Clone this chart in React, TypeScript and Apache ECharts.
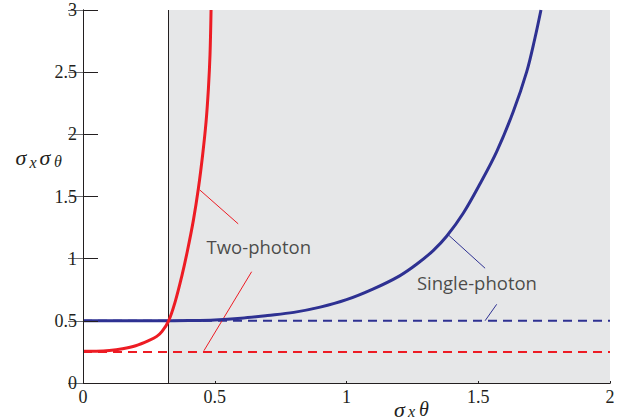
import React, { useEffect, useRef } from "react";
import * as echarts from "echarts";

// ---- data ----
const xMin = 0;
const xMax = 2;
const yMin = 0;
const yMax = 3;
const tickStep = 0.5;

const twoPhotonX = [0, 0.05, 0.1, 0.15, 0.2, 0.25, 0.28, 0.3, 0.325, 0.35, 0.375, 0.396, 0.419, 0.438, 0.454, 0.467, 0.476, 0.482, 0.486];
const twoPhotonY = [0.255, 0.256, 0.262, 0.276, 0.3, 0.342, 0.375, 0.415, 0.5, 0.655, 0.86, 1.06, 1.31, 1.566, 1.834, 2.1, 2.37, 2.64, 3.0];

const singlePhotonX = [0, 0.1, 0.2, 0.3, 0.4, 0.5, 0.6, 0.7, 0.8, 0.9, 1.0, 1.1, 1.2, 1.266, 1.329, 1.38, 1.443, 1.51, 1.57, 1.633, 1.684, 1.715, 1.738];
const singlePhotonY = [0.5, 0.5, 0.5, 0.5, 0.502, 0.507, 0.521, 0.543, 0.568, 0.61, 0.67, 0.755, 0.86, 0.955, 1.065, 1.18, 1.365, 1.615, 1.861, 2.183, 2.504, 2.773, 3.0];

const twoPhotonLimit = 0.25;
const singlePhotonLimit = 0.5;
const thresholdX = 0.325;

const annotationNames = ["Two-photon", "Single-photon"];
const annotationAnchors = [
  [0.667, 1.1],
  [1.495, 0.807],
];
// leader lines: [from, to]
const twoPhotonLeaders = [
  [[0.443, 1.553], [0.589, 1.28]],
  [[0.64, 0.895], [0.459, 0.26]],
];
const singlePhotonLeaders = [
  [[1.387, 1.19], [1.526, 0.923]],
  [[1.57, 0.633], [1.526, 0.501]],
];

const RED = "#ed1c24";
const BLUE = "#2e3192";
const INK = "#231f20";
const SHADE = "#e6e7e8";
const SERIF = "'Liberation Serif', 'DejaVu Serif', serif";
const SANS = "'Open Sans', 'Noto Sans', sans-serif";

const zip = (xs: number[], ys: number[]) => xs.map((x, i) => [x, ys[i]]);

export default function App() {
  const ref = useRef<HTMLDivElement>(null);

  useEffect(() => {
    if (!ref.current) return;
    const chart = echarts.init(ref.current, undefined, { renderer: "svg" });

    const leaderSeries = (pts: number[][], color: string) => ({
      type: "line",
      data: pts,
      symbol: "none",
      silent: true,
      z: 4,
      lineStyle: { color, width: 1 },
    });

    const axisCommon = {
      type: "value",
      splitLine: { show: false },
      axisLine: { show: true, lineStyle: { color: INK, width: 1 } },
      z: 10,
    };

    const mathText = (text: string, x: number, y: number, size: number) => ({
      type: "text",
      x,
      y,
      style: {
        text,
        font: `italic ${size}px ${SERIF}`,
        fill: INK,
        textAlign: "center",
        textVerticalAlign: "middle",
        lineHeight: 14,
      },
    });

    const option: any = {
      animation: false,
      grid: { left: 83, right: 27, top: 10, bottom: 37 },
      xAxis: [
        {
          ...axisCommon,
          position: "bottom",
          min: xMin,
          max: xMax,
          interval: tickStep,
          axisTick: { show: true, inside: true, length: 2, lineStyle: { color: INK } },
          axisLabel: { fontFamily: SERIF, fontSize: 18, color: INK, margin: 5 },
        },
        {
          ...axisCommon,
          position: "top",
          min: xMin,
          max: xMax,
          interval: tickStep,
          axisTick: { show: false },
          axisLabel: { show: false },
        },
      ],
      yAxis: [
        {
          ...axisCommon,
          position: "left",
          min: yMin,
          max: yMax,
          interval: tickStep,
          axisTick: { show: true, inside: true, length: 15, lineStyle: { color: INK } },
          axisLabel: { fontFamily: SERIF, fontSize: 18, color: INK, margin: 6 },
        },
        {
          ...axisCommon,
          position: "right",
          min: yMin,
          max: yMax,
          interval: tickStep,
          axisTick: { show: true, inside: true, length: 15, lineStyle: { color: "#6d6e71" } },
          axisLabel: { show: false },
        },
      ],
      series: [
        {
          type: "line",
          data: [],
          z: 1,
          silent: true,
          markArea: {
            silent: true,
            itemStyle: { color: SHADE },
            data: [[{ coord: [thresholdX, yMin] }, { coord: [xMax, yMax] }]],
          },
          markLine: {
            silent: true,
            symbol: "none",
            label: { show: false },
            lineStyle: { color: INK, width: 1, type: "solid" },
            data: [[{ coord: [thresholdX, yMin] }, { coord: [thresholdX, yMax] }]],
          },
        },
        {
          type: "line",
          data: [[xMin, twoPhotonLimit], [xMax, twoPhotonLimit]],
          symbol: "none",
          z: 3,
          lineStyle: { color: RED, width: 2, type: [9, 6] },
        },
        {
          type: "line",
          data: [[xMin, singlePhotonLimit], [xMax, singlePhotonLimit]],
          symbol: "none",
          z: 3,
          lineStyle: { color: BLUE, width: 2, type: [9, 6] },
        },
        {
          type: "line",
          data: zip(singlePhotonX, singlePhotonY),
          symbol: "none",
          smooth: 0.35,
          z: 5,
          lineStyle: { color: BLUE, width: 3 },
        },
        {
          type: "line",
          data: zip(twoPhotonX, twoPhotonY),
          symbol: "none",
          smooth: 0.35,
          z: 6,
          lineStyle: { color: RED, width: 3 },
        },
        ...twoPhotonLeaders.map((p) => leaderSeries(p, RED)),
        ...singlePhotonLeaders.map((p) => leaderSeries(p, BLUE)),
        {
          type: "scatter",
          symbolSize: 1,
          itemStyle: { color: "rgba(0,0,0,0)" },
          z: 7,
          silent: true,
          data: annotationNames.map((n, i) => ({ name: n, value: annotationAnchors[i] })),
          label: {
            show: true,
            position: "inside",
            formatter: "{b}",
            fontFamily: SANS,
            fontSize: 18.5,
            color: INK,
          },
        },
      ],
      graphic: [
        // y-axis title: sigma_x sigma_theta
        mathText("σ", 21, 157.5, 22),
        mathText("x", 33, 162, 16),
        mathText("σ", 45, 157, 22),
        mathText("θ", 58, 161, 16),
        // x-axis title: sigma_x theta
        mathText("σ", 399.5, 409, 22),
        mathText("x", 411.5, 411.5, 16),
        mathText("θ", 424, 408.5, 20),
      ],
    };

    chart.setOption(option);
    return () => chart.dispose();
  }, []);

  return <div ref={ref} style={{ width: 637, height: 420, position: "absolute", left: 0, top: 0 }} />;
}
